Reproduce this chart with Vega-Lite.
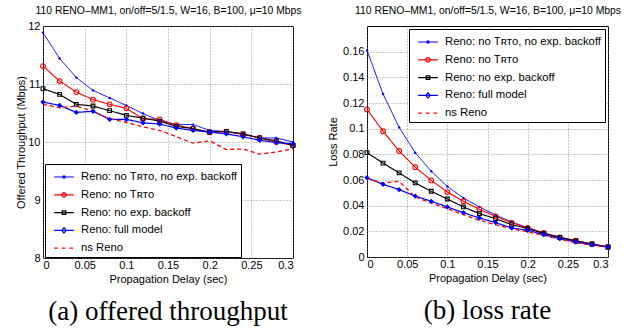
{
  "$schema": "https://vega.github.io/schema/vega-lite/v6.json",
  "padding": {"left": 15, "top": 4, "right": 0, "bottom": 0},
  "background": "white",
  "spacing": 25,
  "datasets": {
    "tput": [
      {"d": 0, "s1": 11.885, "s2": 11.31, "s3": 10.92, "s4": 10.69, "s5": 10.65},
      {"d": 0.02, "s1": 11.44, "s2": 11.05, "s3": 10.82, "s4": 10.63, "s5": 10.59},
      {"d": 0.04, "s1": 11.11, "s2": 10.86, "s3": 10.65, "s4": 10.51, "s5": 10.62},
      {"d": 0.06, "s1": 10.89, "s2": 10.73, "s3": 10.62, "s4": 10.53, "s5": 10.53},
      {"d": 0.08, "s1": 10.76, "s2": 10.65, "s3": 10.54, "s4": 10.39, "s5": 10.40},
      {"d": 0.1, "s1": 10.63, "s2": 10.58, "s3": 10.46, "s4": 10.39, "s5": 10.34},
      {"d": 0.12, "s1": 10.49, "s2": 10.40, "s3": 10.41, "s4": 10.33, "s5": 10.26},
      {"d": 0.14, "s1": 10.37, "s2": 10.39, "s3": 10.36, "s4": 10.31, "s5": 10.20},
      {"d": 0.16, "s1": 10.30, "s2": 10.29, "s3": 10.27, "s4": 10.24, "s5": 10.09},
      {"d": 0.18, "s1": 10.30, "s2": 10.23, "s3": 10.23, "s4": 10.20, "s5": 9.98},
      {"d": 0.2, "s1": 10.20, "s2": 10.17, "s3": 10.17, "s4": 10.17, "s5": 10.02},
      {"d": 0.22, "s1": 10.18, "s2": 10.18, "s3": 10.18, "s4": 10.14, "s5": 9.87},
      {"d": 0.24, "s1": 10.14, "s2": 10.13, "s3": 10.14, "s4": 10.09, "s5": 9.88},
      {"d": 0.26, "s1": 10.07, "s2": 10.07, "s3": 10.07, "s4": 10.03, "s5": 9.79},
      {"d": 0.28, "s1": 10.07, "s2": 10.00, "s3": 10.02, "s4": 9.99, "s5": 9.83},
      {"d": 0.3, "s1": 10.00, "s2": 9.94, "s3": 9.94, "s4": 9.97, "s5": 9.88}
    ],
    "loss": [
      {"d": 0, "s1": 0.161, "s2": 0.115, "s3": 0.0813, "s4": 0.0618, "s5": 0.061},
      {"d": 0.02, "s1": 0.127, "s2": 0.098, "s3": 0.0732, "s4": 0.0566, "s5": 0.0577},
      {"d": 0.04, "s1": 0.101, "s2": 0.0826, "s3": 0.0655, "s4": 0.0525, "s5": 0.059},
      {"d": 0.06, "s1": 0.0813, "s2": 0.070, "s3": 0.0577, "s4": 0.0475, "s5": 0.0468},
      {"d": 0.08, "s1": 0.0668, "s2": 0.0597, "s3": 0.0512, "s4": 0.0434, "s5": 0.042},
      {"d": 0.1, "s1": 0.055, "s2": 0.0506, "s3": 0.0452, "s4": 0.039, "s5": 0.0377},
      {"d": 0.12, "s1": 0.046, "s2": 0.0434, "s3": 0.039, "s4": 0.0345, "s5": 0.033},
      {"d": 0.14, "s1": 0.039, "s2": 0.0371, "s3": 0.0338, "s4": 0.0304, "s5": 0.0286},
      {"d": 0.16, "s1": 0.0327, "s2": 0.0317, "s3": 0.0299, "s4": 0.0268, "s5": 0.0252},
      {"d": 0.18, "s1": 0.0273, "s2": 0.0268, "s3": 0.0252, "s4": 0.0226, "s5": 0.0221},
      {"d": 0.2, "s1": 0.0229, "s2": 0.0226, "s3": 0.0221, "s4": 0.0208, "s5": 0.0195},
      {"d": 0.22, "s1": 0.0187, "s2": 0.0187, "s3": 0.0184, "s4": 0.0174, "s5": 0.0169},
      {"d": 0.24, "s1": 0.0153, "s2": 0.0153, "s3": 0.0153, "s4": 0.0143, "s5": 0.0138},
      {"d": 0.26, "s1": 0.0127, "s2": 0.0127, "s3": 0.0125, "s4": 0.0117, "s5": 0.0112},
      {"d": 0.28, "s1": 0.0101, "s2": 0.0101, "s3": 0.0101, "s4": 0.0096, "s5": 0.0091},
      {"d": 0.3, "s1": 0.0078, "s2": 0.0078, "s3": 0.0078, "s4": 0.0078, "s5": 0.0078}
    ]
  },
  "config": {
    "font": "Liberation Sans",
    "view": {"stroke": "black", "strokeWidth": 1},
    "axis": {
      "labelFont": "Liberation Sans", "titleFont": "Liberation Sans",
      "labelFontSize": 11, "titleFontSize": 11, "titleFontWeight": "normal",
      "labelColor": "black", "titleColor": "black",
      "domain": false, "ticks": false, "labelPadding": 3,
      "gridColor": "#777", "gridDash": [1, 2], "gridOpacity": 1, "gridWidth": 0.8
    },
    "title": {"font": "Liberation Serif", "fontSize": 27, "fontWeight": "normal", "color": "black", "offset": 15},
    "legend": {
      "labelFont": "Liberation Sans", "labelFontSize": 11.3, "labelColor": "black", "labelLimit": 400,
      "strokeColor": "black", "fillColor": "white", "padding": 3, "cornerRadius": 0,
      "symbolSize": 324, "symbolStrokeWidth": 1.2, "symbolOffset": 6, "labelOffset": 7, "rowPadding": 1.8
    }
  },
  "hconcat": [
    {
      "title": {"text": "(a) offered throughput", "orient": "bottom"},
      "width": 250, "height": 232,
      "data": {"name": "tput"},
      "transform": [{"fold": ["s1", "s2", "s3", "s4", "s5"], "as": ["series", "y"]}],
      "resolve": {"axis": {"x": "independent"}},
      "encoding": {
        "x": {"field": "d", "type": "quantitative", "scale": {"domain": [0, 0.3], "nice": false}, "axis": null},
        "y": {"field": "y", "type": "quantitative", "scale": {"domain": [8, 12], "nice": false},
              "axis": {"title": "Offered Throughput (Mbps)", "values": [8, 9, 10, 11, 12], "titlePadding": 1}}
      },
      "layer": [
        {
          "mark": {"type": "line"},
          "encoding": {
            "x": {"field": "d", "type": "quantitative", "scale": {"domain": [0, 0.3], "nice": false},
                  "axis": {"orient": "bottom", "title": "Propagation Delay (sec)", "values": [0, 0.05, 0.1, 0.15, 0.2, 0.25, 0.3], "format": "~g", "labelPadding": 1, "titlePadding": 3}},
            "color": {"field": "series", "type": "nominal", "scale": {"domain": ["s1", "s2", "s3", "s4", "s5"], "range": ["#0000ff", "#ff0000", "#000000", "#0000ff", "#ff0000"]}, "legend": null},
            "strokeDash": {"field": "series", "type": "nominal", "scale": {"domain": ["s1", "s2", "s3", "s4", "s5"], "range": [[1, 0], [1, 0], [1, 0], [1, 0], [4, 3]]}, "legend": null},
            "strokeWidth": {"field": "series", "type": "ordinal", "scale": {"domain": ["s1", "s2", "s3", "s4", "s5"], "range": [1, 1.3, 1.2, 1.8, 1.2]}, "legend": null}
          }
        },
        {"transform": [{"filter": "datum.series === 's1'"}], "mark": {"type": "point", "shape": "circle", "filled": true, "size": 6, "color": "#0000ff", "opacity": 1}},
        {"transform": [{"filter": "datum.series === 's2'"}], "mark": {"type": "point", "shape": "circle", "filled": false, "size": 22, "color": "#ff0000", "strokeWidth": 1.1, "opacity": 1}},
        {"transform": [{"filter": "datum.series === 's3'"}], "mark": {"type": "point", "shape": "square", "filled": false, "size": 14, "color": "#000000", "strokeWidth": 1.1, "opacity": 1}},
        {"transform": [{"filter": "datum.series === 's4'"}], "mark": {"type": "point", "shape": "diamond", "filled": true, "size": 28, "color": "#0000ff", "opacity": 1}},
        {
          "transform": [{"filter": "false"}],
          "mark": {"type": "point", "filled": false, "strokeWidth": 1.2, "opacity": 1},
          "encoding": {
            "x": {"field": "d", "type": "quantitative", "scale": {"domain": [0, 0.3], "nice": false},
                  "axis": {"orient": "top", "title": "110 RENO–MM1, on/off=5/1.5, W=16, B=100, μ=10 Mbps", "titleFontSize": 10.4, "labels": false, "grid": false, "titlePadding": 11}},
            "shape": {"field": "series", "type": "nominal",
              "scale": {"domain": ["s1", "s2", "s3", "s4", "s5"], "range": ["M-1.1,0H1.1M-0.1,-0.1H0.1V0.1H-0.1Z", "M-1.1,0H1.1M-0.25,0A0.25,0.25 0 1,0 0.25,0A0.25,0.25 0 1,0 -0.25,0", "M-1.1,0H1.1M-0.2,-0.2H0.2V0.2H-0.2Z", "M-1.1,0H1.1M0,-0.3L0.25,0L0,0.3L-0.25,0Z", "M-1.1,0H-0.7M-0.25,0H0.15M0.6,0H1"]},
              "legend": {"title": null, "orient": "bottom-left", "offset": 1.5, "labelExpr": "datum.value==='s1'?'Reno: no Tʀᴛᴏ, no exp. backoff':datum.value==='s2'?'Reno: no Tʀᴛᴏ':datum.value==='s3'?'Reno: no exp. backoff':datum.value==='s4'?'Reno: full model':'ns Reno'"}},
            "stroke": {"field": "series", "type": "nominal",
              "scale": {"domain": ["s1", "s2", "s3", "s4", "s5"], "range": ["#0000ff", "#ff0000", "#000000", "#0000ff", "#ff0000"]},
              "legend": {"title": null, "orient": "bottom-left", "offset": 1.5, "labelExpr": "datum.value==='s1'?'Reno: no Tʀᴛᴏ, no exp. backoff':datum.value==='s2'?'Reno: no Tʀᴛᴏ':datum.value==='s3'?'Reno: no exp. backoff':datum.value==='s4'?'Reno: full model':'ns Reno'"}}
          }
        }
      ]
    },
    {
      "title": {"text": "(b) loss rate", "orient": "bottom"},
      "width": 241, "height": 231,
      "data": {"name": "loss"},
      "transform": [{"fold": ["s1", "s2", "s3", "s4", "s5"], "as": ["series", "y"]}],
      "resolve": {"axis": {"x": "independent"}},
      "encoding": {
        "x": {"field": "d", "type": "quantitative", "scale": {"domain": [0, 0.3], "nice": false}, "axis": null},
        "y": {"field": "y", "type": "quantitative", "scale": {"domain": [0, 0.18], "nice": false},
              "axis": {"title": "Loss Rate", "values": [0, 0.02, 0.04, 0.06, 0.08, 0.1, 0.12, 0.14, 0.16], "format": "~g", "titlePadding": 4}}
      },
      "layer": [
        {
          "mark": {"type": "line"},
          "encoding": {
            "x": {"field": "d", "type": "quantitative", "scale": {"domain": [0, 0.3], "nice": false},
                  "axis": {"orient": "bottom", "title": "Propagation Delay (sec)", "values": [0, 0.05, 0.1, 0.15, 0.2, 0.25, 0.3], "format": "~g", "labelPadding": 1, "titlePadding": 3}},
            "color": {"field": "series", "type": "nominal", "scale": {"domain": ["s1", "s2", "s3", "s4", "s5"], "range": ["#0000ff", "#ff0000", "#000000", "#0000ff", "#ff0000"]}, "legend": null},
            "strokeDash": {"field": "series", "type": "nominal", "scale": {"domain": ["s1", "s2", "s3", "s4", "s5"], "range": [[1, 0], [1, 0], [1, 0], [1, 0], [4, 3]]}, "legend": null},
            "strokeWidth": {"field": "series", "type": "ordinal", "scale": {"domain": ["s1", "s2", "s3", "s4", "s5"], "range": [1, 1.3, 1.2, 1.8, 1.2]}, "legend": null}
          }
        },
        {"transform": [{"filter": "datum.series === 's1'"}], "mark": {"type": "point", "shape": "circle", "filled": true, "size": 6, "color": "#0000ff", "opacity": 1}},
        {"transform": [{"filter": "datum.series === 's2'"}], "mark": {"type": "point", "shape": "circle", "filled": false, "size": 22, "color": "#ff0000", "strokeWidth": 1.1, "opacity": 1}},
        {"transform": [{"filter": "datum.series === 's3'"}], "mark": {"type": "point", "shape": "square", "filled": false, "size": 14, "color": "#000000", "strokeWidth": 1.1, "opacity": 1}},
        {"transform": [{"filter": "datum.series === 's4'"}], "mark": {"type": "point", "shape": "diamond", "filled": true, "size": 28, "color": "#0000ff", "opacity": 1}},
        {
          "transform": [{"filter": "false"}],
          "mark": {"type": "point", "filled": false, "strokeWidth": 1.2, "opacity": 1},
          "encoding": {
            "x": {"field": "d", "type": "quantitative", "scale": {"domain": [0, 0.3], "nice": false},
                  "axis": {"orient": "top", "title": "110 RENO–MM1, on/off=5/1.5, W=16, B=100, μ=10 Mbps", "titleFontSize": 10.4, "labels": false, "grid": false, "titlePadding": 11}},
            "shape": {"field": "series", "type": "nominal",
              "scale": {"domain": ["s1", "s2", "s3", "s4", "s5"], "range": ["M-1.1,0H1.1M-0.1,-0.1H0.1V0.1H-0.1Z", "M-1.1,0H1.1M-0.25,0A0.25,0.25 0 1,0 0.25,0A0.25,0.25 0 1,0 -0.25,0", "M-1.1,0H1.1M-0.2,-0.2H0.2V0.2H-0.2Z", "M-1.1,0H1.1M0,-0.3L0.25,0L0,0.3L-0.25,0Z", "M-1.1,0H-0.7M-0.25,0H0.15M0.6,0H1"]},
              "legend": {"title": null, "orient": "top-right", "offset": 3, "labelExpr": "datum.value==='s1'?'Reno: no Tʀᴛᴏ, no exp. backoff':datum.value==='s2'?'Reno: no Tʀᴛᴏ':datum.value==='s3'?'Reno: no exp. backoff':datum.value==='s4'?'Reno: full model':'ns Reno'"}},
            "stroke": {"field": "series", "type": "nominal",
              "scale": {"domain": ["s1", "s2", "s3", "s4", "s5"], "range": ["#0000ff", "#ff0000", "#000000", "#0000ff", "#ff0000"]},
              "legend": {"title": null, "orient": "top-right", "offset": 3, "labelExpr": "datum.value==='s1'?'Reno: no Tʀᴛᴏ, no exp. backoff':datum.value==='s2'?'Reno: no Tʀᴛᴏ':datum.value==='s3'?'Reno: no exp. backoff':datum.value==='s4'?'Reno: full model':'ns Reno'"}}
          }
        }
      ]
    }
  ]
}
